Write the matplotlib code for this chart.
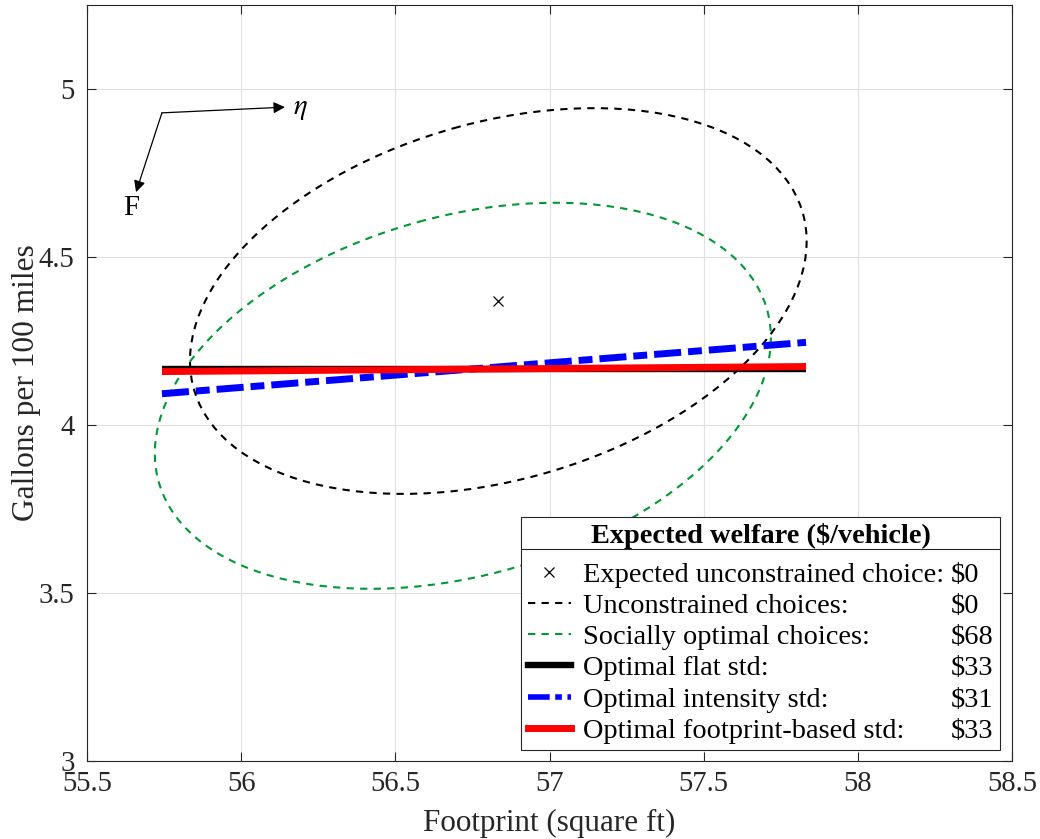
import numpy as np
import matplotlib
matplotlib.use("Agg")
import matplotlib.pyplot as plt
from matplotlib.patches import Ellipse
from matplotlib.lines import Line2D

plt.rcParams['font.family'] = 'serif'
plt.rcParams['font.serif'] = ['Liberation Serif', 'DejaVu Serif']
plt.rcParams['mathtext.fontset'] = 'stix'

# expected unconstrained choice (footprint, gallons per 100 mi)
exp_choice = [56.832, 4.369]

# choice ellipses: centre and covariance (footprint, gpm)
unc_center = [56.834, 4.369]
unc_cov = [[1.000, 0.178], [0.178, 0.3295]]
soc_center = [56.719, 4.087]
soc_cov = [[0.998, 0.172], [0.172, 0.330]]

# standards: footprint end points and gpm at those points
std_x = [55.743, 57.832]
flat_y = [4.1665, 4.1665]
intensity_y = [4.093, 4.246]
footprint_y = [4.159, 4.174]

names = ["Expected unconstrained choice:", "Unconstrained choices:",
         "Socially optimal choices:", "Optimal flat std:",
         "Optimal intensity std:", "Optimal footprint-based std:"]
welfare = ["$0", "$0", "$68", "$33", "$31", "$33"]

GREEN = (0.0, 0.6, 0.2)
BLUE = (0.0, 0.0, 1.0)
RED = (1.0, 0.0, 0.0)
AX_COL = (0.15, 0.15, 0.15)
TICK_FS = 20.7
LEG_FS = 20.4


def cov_ellipse(center, cov, **kw):
    vals, vecs = np.linalg.eigh(np.array(cov))
    ang = np.degrees(np.arctan2(vecs[1, 1], vecs[0, 1]))
    return Ellipse(center, 2 * np.sqrt(vals[1]), 2 * np.sqrt(vals[0]),
                   angle=ang, fill=False, **kw)


fig = plt.figure(figsize=(10.4, 8.39), dpi=100)
ax = fig.add_axes([87 / 1040, 78 / 839, 925 / 1040, 756 / 839])

dash_kw = dict(linewidth=1.5, linestyle=(0, (3.5, 3)))
ax.add_patch(cov_ellipse(unc_center, unc_cov, edgecolor='black', **dash_kw))
ax.add_patch(cov_ellipse(soc_center, soc_cov, edgecolor=GREEN, **dash_kw))

ax.plot(exp_choice[0], exp_choice[1], 'x', color='black', markersize=7,
        markeredgewidth=0.9)

ax.plot(std_x, flat_y, color='black', linewidth=4.6, solid_capstyle='butt')
ax.plot(std_x, intensity_y, color=BLUE, linewidth=5,
        linestyle=(0, (3.9, 1.0, 2.0, 1.0)), dash_capstyle='butt')
ax.plot(std_x, footprint_y, color=RED, linewidth=5, solid_capstyle='butt')

# direction arrows
arrow_kw = dict(arrowstyle='-|>', color='black', lw=0.9, mutation_scale=17,
                shrinkA=0, shrinkB=0)
ax.annotate("", xy=(56.142, 4.946), xytext=(55.743, 4.929),
            arrowprops=arrow_kw)
ax.annotate("", xy=(55.659, 4.693), xytext=(55.743, 4.929),
            arrowprops=arrow_kw)
ax.text(56.168, 4.94, r"$\eta$", fontsize=TICK_FS, va='center', ha='left')
ax.text(55.643, 4.645, "F", fontsize=TICK_FS, va='center', ha='center')

ax.set_xlim(55.5, 58.5)
ax.set_ylim(3, 5.25)
ax.set_xticks(np.arange(55.5, 58.51, 0.5))
ax.set_yticks(np.arange(3, 5.01, 0.5))
ax.set_xticklabels(["55.5", "56", "56.5", "57", "57.5", "58", "58.5"])
ax.set_yticklabels(["3", "3.5", "4", "4.5", "5"])
ax.grid(True, color=(0.88, 0.88, 0.88), linewidth=0.8)
ax.set_axisbelow(True)
ax.tick_params(direction='in', length=6.5, width=0.8, top=True, right=True,
               labelsize=TICK_FS, colors=AX_COL)
ax.tick_params(axis='x', pad=7)
ax.tick_params(axis='y', pad=9)
for s in ax.spines.values():
    s.set_color(AX_COL)
    s.set_linewidth(0.8)

ax.set_xlabel("Footprint (square ft)", fontsize=22.4, color=AX_COL)
ax.set_ylabel("Gallons per 100 miles", fontsize=22.6, color=AX_COL)
ax.xaxis.set_label_coords(0.5, -0.064)
ax.yaxis.set_label_coords(-0.05, 0.5)

# legend: names in first column, welfare values in second
handles = [
    Line2D([], [], marker='x', linestyle='none', color='black',
           markersize=7, markeredgewidth=0.9),
    Line2D([], [], color='black', **dash_kw),
    Line2D([], [], color=GREEN, **dash_kw),
    Line2D([], [], color='black', linewidth=4.6),
    Line2D([], [], color=BLUE, linewidth=4,
           linestyle=(0, (3.9, 1.0, 1.2, 1.0))),
    Line2D([], [], color=RED, linewidth=5),
]
blank = [Line2D([], [], linestyle='none') for _ in welfare]
leg = ax.legend(handles + blank, names + welfare, ncol=2,
                loc='lower right', bbox_to_anchor=(0.987, 0.0146),
                borderaxespad=0, fontsize=LEG_FS, frameon=True,
                fancybox=False, framealpha=1, edgecolor=AX_COL,
                borderpad=0.22, handlelength=1.55, handletextpad=0.4,
                labelspacing=0.19, columnspacing=-1.7,
                title="Expected welfare ($/vehicle)",
                title_fontproperties={'weight': 'bold', 'size': LEG_FS})
leg.get_frame().set_linewidth(0.8)
# a little more room between the title and the entries
leg._legend_box.sep = 0.19 * LEG_FS + 5

fig.canvas.draw()
r = fig.canvas.get_renderer()
fb = leg.get_frame().get_window_extent(r)
tb = leg.get_title().get_window_extent(r)
W, H = fig.bbox.width, fig.bbox.height
ysep = tb.y0 / H
fig.add_artist(Line2D([fb.x0 / W, fb.x1 / W], [ysep, ysep],
                      transform=fig.transFigure, color=AX_COL, linewidth=0.8))

fig.savefig("out.png", dpi=100)
